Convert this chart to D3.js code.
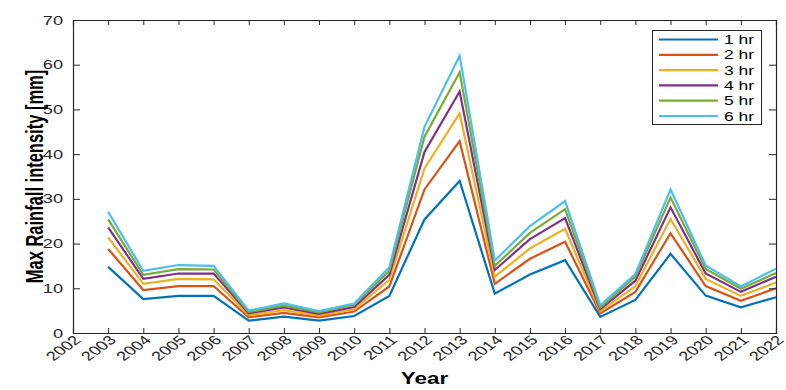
<!DOCTYPE html>
<html><head><meta charset="utf-8">
<script src="https://cdn.jsdelivr.net/npm/d3@7"></script>
<style>html,body{margin:0;padding:0;background:#fff;} svg{display:block;}</style>
</head><body>
<svg id="chart" width="786" height="390"></svg>
<script>
const years = [2003,2004,2005,2006,2007,2008,2009,2010,2011,2012,2013,2014,2015,2016,2017,2018,2019,2020,2021,2022];
const hr1 = [14.8,7.6,8.3,8.3,2.75,3.65,2.75,3.8,8.3,25.4,34.0,8.8,13.1,16.3,3.6,7.4,17.7,8.35,5.75,8.0];
const hr2 = [18.8,9.6,10.5,10.5,3.5,4.5,3.5,4.8,10.4,32.1,42.9,11.0,16.6,20.4,4.4,9.2,22.3,10.5,7.2,10.0];
const hr3 = [21.4,11.0,12.1,12.0,4.0,5.1,3.9,5.3,11.9,36.8,49.1,12.6,18.9,23.3,4.85,10.5,25.5,12.1,8.3,11.3];
const hr4 = [23.6,12.1,13.3,13.3,4.4,5.7,4.3,5.8,13.0,40.5,54.0,14.1,21.0,25.7,5.3,11.7,28.1,13.3,9.2,12.6];
const hr5 = [25.4,13.0,14.3,14.2,4.7,6.1,4.6,6.3,13.9,43.9,58.3,15.0,22.4,27.7,5.7,12.6,30.3,14.3,9.9,13.4];
const hr6 = [27.1,13.9,15.2,15.0,5.0,6.6,4.9,6.6,14.7,46.1,62.0,16.2,23.9,29.5,6.2,13.2,32.1,15.1,10.4,14.4];
const seriesNames = ["1 hr","2 hr","3 hr","4 hr","5 hr","6 hr"];
const seriesColors = ["#0072BD","#D95319","#EDB120","#7E2F8E","#77AC30","#4DBEEE"];
const xTicks = d3.range(2002, 2023);
const yTicks = [0,10,20,30,40,50,60,70];
const xLabel = "Year";
const yLabel = "Max Rainfall intensity [mm]";

const series = [hr1,hr2,hr3,hr4,hr5,hr6].map((v,i)=>({name:seriesNames[i], color:seriesColors[i], values:v}));

const L=73, R=776, T=20, B=333, SX=1.4;
const axisColor = "#262626";
const font = "'Liberation Sans', Arial, Helvetica, sans-serif";
const svg = d3.select("#chart");
const x = d3.scaleLinear().domain([2002,2022]).range([L,R]);
const y = d3.scaleLinear().domain([0,70]).range([B,T]);

// lines
const line = d3.line().x((d,i)=>x(years[i])).y(d=>y(d));
svg.append("g").selectAll("path").data(series).join("path")
  .attr("d", d=>line(d.values)).attr("fill","none")
  .attr("stroke", d=>d.color).attr("stroke-width",2.2)
  .attr("stroke-linejoin","miter");

// axes
const gB = svg.append("g").attr("transform",`translate(0,${B})`)
  .call(d3.axisBottom(x).tickValues(xTicks).tickSize(-5).tickFormat(""));
const gT = svg.append("g").attr("transform",`translate(0,${T})`)
  .call(d3.axisTop(x).tickValues(xTicks).tickSize(-5).tickFormat(""));
const gL = svg.append("g").attr("transform",`translate(${L},0)`)
  .call(d3.axisLeft(y).tickValues(yTicks).tickSize(-7).tickFormat(""));
const gR = svg.append("g").attr("transform",`translate(${R},0)`)
  .call(d3.axisRight(y).tickValues(yTicks).tickSize(-7).tickFormat(""));
[gB,gT,gL,gR].forEach(g=>{
  g.selectAll("path").attr("stroke",axisColor).attr("stroke-width",1.2);
  g.selectAll("line").attr("stroke",axisColor).attr("stroke-width",1);
});

// y tick labels
svg.append("g").selectAll("text").data(yTicks).join("text")
  .attr("transform", d=>`translate(${L-10},${y(d)+4.5}) scale(${SX},1)`)
  .attr("text-anchor","end").attr("font-family",font).attr("font-size",13)
  .attr("fill",axisColor).text(d=>d);

// x tick labels
svg.append("g").selectAll("text").data(xTicks).join("text")
  .attr("transform", d=>`translate(${x(d)+9},${B+8}) scale(${SX},1) rotate(-45)`)
  .attr("text-anchor","end").attr("font-family",font).attr("font-size",13)
  .attr("fill",axisColor).text(d=>d);

// axis titles
svg.append("text").attr("transform",`translate(${(L+R)/2},${384}) scale(${SX},1)`)
  .attr("text-anchor","middle").attr("font-family",font).attr("font-size",16)
  .attr("font-weight","bold").attr("fill","#000").text(xLabel);
svg.append("text").attr("transform",`translate(${43},${(T+B)/2}) scale(${SX},1) rotate(-90)`)
  .attr("text-anchor","middle").attr("font-family",font).attr("font-size",16.5)
  .attr("font-weight","bold").attr("fill","#000").text(yLabel);

// legend
const lg = svg.append("g");
lg.append("rect").attr("x",652.5).attr("y",30.5).attr("width",109).attr("height",94)
  .attr("fill","#fff").attr("stroke",axisColor).attr("stroke-width",1);
const rowY = i => 39.5 + i*15.3;
lg.selectAll("line.s").data(series).join("line").attr("class","s")
  .attr("x1",659).attr("x2",718).attr("y1",(d,i)=>rowY(i)).attr("y2",(d,i)=>rowY(i))
  .attr("stroke",d=>d.color).attr("stroke-width",2.2);
lg.selectAll("text").data(series).join("text")
  .attr("transform",(d,i)=>`translate(724,${rowY(i)+4.5}) scale(${SX},1)`)
  .attr("font-family",font).attr("font-size",12.5).attr("fill","#000").text(d=>d.name);
</script>
</body></html>
